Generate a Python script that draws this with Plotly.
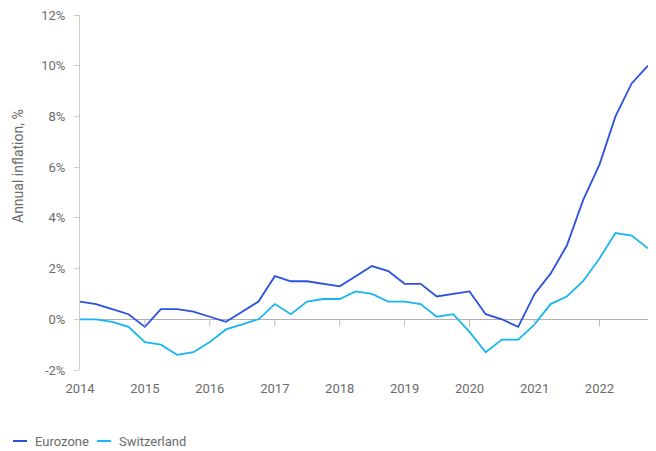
import plotly.graph_objects as go

# ── Data (quarterly, annual inflation in %) ────────────────────────────────
QUARTERS = [f"{y}-{m:02d}-01" for y in range(2014, 2023) for m in (1, 4, 7, 10)]

EUROZONE = [0.7, 0.6, 0.4, 0.2, -0.3, 0.4, 0.4, 0.3,
            0.1, -0.1, 0.3, 0.7, 1.7, 1.5, 1.5, 1.4,
            1.3, 1.7, 2.1, 1.9, 1.4, 1.4, 0.9, 1.0,
            1.1, 0.2, 0.0, -0.3, 1.0, 1.8, 2.9, 4.7,
            6.1, 8.0, 9.3, 10.0]

SWITZERLAND = [0.0, 0.0, -0.1, -0.3, -0.9, -1.0, -1.4, -1.3,
               -0.9, -0.4, -0.2, 0.0, 0.6, 0.2, 0.7, 0.8,
               0.8, 1.1, 1.0, 0.7, 0.7, 0.6, 0.1, 0.2,
               -0.5, -1.3, -0.8, -0.8, -0.2, 0.6, 0.9, 1.5,
               2.4, 3.4, 3.3, 2.8]

YEAR_TICKS = [f"{y}-01-01" for y in range(2014, 2023)]
YEAR_LABELS = [str(y) for y in range(2014, 2023)]
Y_TICKS = [-2, 0, 2, 4, 6, 8, 10, 12]
Y_LABELS = [f"{v}%" for v in Y_TICKS]

SERIES = [("Eurozone", EUROZONE, "#2a50e0"),
          ("Switzerland", SWITZERLAND, "#17b6f0")]
TEXT = "#6b6b6b"
Y_MIN, Y_MAX = -2, 12
X_RANGE = [QUARTERS[0], QUARTERS[-1]]

# the page body adds an 8px offset, so the figure is 8px smaller than the
# window; plot area on screen: left 80, right 648, top 15, bottom 370
OFF = 8
W, H = 656 - OFF, 451 - OFF
M = {"l": 80 - OFF, "r": 8, "t": 15 - OFF, "b": 81}
PW = W - M["l"] - M["r"]
PH = H - M["t"] - M["b"]


def px_x(x):
    return (x - OFF - M["l"]) / PW


def px_y(y):
    return (H + OFF - M["b"] - y) / PH


fig = go.Figure()
for name, vals, color in SERIES:
    fig.add_trace(go.Scatter(
        x=QUARTERS, y=vals, mode="lines", name=name,
        line={"color": color, "width": 1.8},
        hovertemplate="%{y:.1f}%<extra></extra>",
    ))

# year tick marks hanging below the 0% line
for t in YEAR_TICKS[1:]:
    fig.add_shape(type="line", xref="x", yref="y", x0=t, x1=t,
                  ysizemode="pixel", yanchor=0, y0=0, y1=-7,
                  line={"color": "#bdbdbd", "width": 1})

# manual legend with short line keys
legend_pos = [(13, 33), (97, 117)]
for (name, _, color), (lx, tx) in zip(SERIES, legend_pos):
    fig.add_shape(type="line", xref="paper", yref="paper",
                  x0=px_x(lx), x1=px_x(lx + 14), y0=px_y(441), y1=px_y(441),
                  line={"color": color, "width": 2})
    fig.add_annotation(text=name, xref="paper", yref="paper",
                       x=px_x(tx), y=px_y(441), xanchor="left", yanchor="middle",
                       showarrow=False, font={"size": 13, "color": TEXT})

# y-axis title
fig.add_annotation(text="Annual inflation, %", xref="paper", yref="paper",
                   x=px_x(18), y=px_y(166), textangle=-90, showarrow=False,
                   xanchor="center", yanchor="middle",
                   font={"size": 14, "color": TEXT})

fig.update_layout(
    width=W, height=H, margin=M,
    paper_bgcolor="white", plot_bgcolor="white",
    font={"family": "Roboto, Arial, sans-serif", "size": 13, "color": TEXT},
    showlegend=False,
    xaxis={
        "type": "date", "range": X_RANGE, "automargin": False,
        "tickvals": YEAR_TICKS, "ticktext": YEAR_LABELS,
        "showgrid": False, "showline": False, "zeroline": False,
        "ticks": "outside", "ticklen": 6, "tickcolor": "rgba(0,0,0,0)",
        "tickfont": {"size": 13, "color": TEXT},
    },
    yaxis={
        "range": [Y_MIN, Y_MAX], "automargin": False,
        "tickvals": Y_TICKS, "ticktext": Y_LABELS,
        "showgrid": False, "zeroline": True, "zerolinecolor": "#b0b0b0",
        "zerolinewidth": 1,
        "showline": True, "linecolor": "#cccccc", "linewidth": 1,
        "ticks": "outside", "ticklen": 5, "tickcolor": "#cccccc",
        "ticklabelstandoff": 6, "ticklabeloverflow": "allow",
        "tickfont": {"size": 13, "color": TEXT},
    },
)

fig.write_html("out.html")
